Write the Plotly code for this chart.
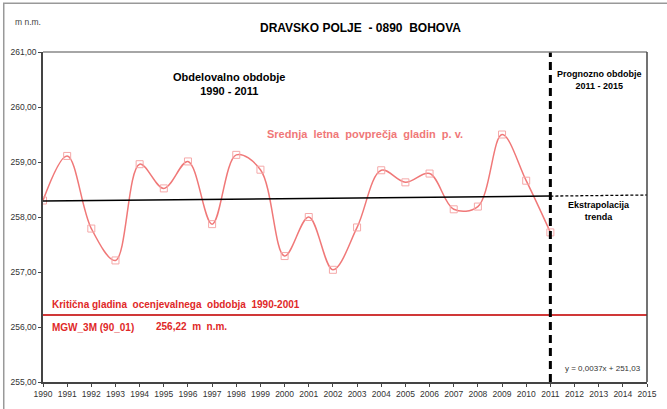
import plotly.graph_objects as go

years = list(range(1990, 2012))
levels = [258.30, 259.11, 257.79, 257.21, 258.96, 258.52, 259.01, 257.87, 259.13, 258.86,
          257.29, 258.00, 257.04, 257.81, 258.85, 258.63, 258.79, 258.14, 258.19, 259.50,
          258.66, 257.72]
trend_years = [1990, 2011]
trend_values = [258.29, 258.38]
extrap_years = [2011, 2015]
extrap_values = [258.38, 258.40]
critical_level = 256.22
split_year = 2011
y_ticks = [255, 256, 257, 258, 259, 260, 261]
y_tick_labels = ["255,00", "256,00", "257,00", "258,00", "259,00", "260,00", "261,00"]
x_ticks = list(range(1990, 2016))

FONT = "Liberation Sans, Arial, sans-serif"

fig = go.Figure()
fig.add_trace(go.Scatter(x=years, y=levels, mode="lines", line=dict(color="#F07878", width=1.5, shape="spline", smoothing=1.0), hoverinfo="skip"))
fig.add_trace(go.Scatter(x=years, y=levels, mode="markers",
                         marker=dict(symbol="square-open", size=7, color="#F5A8A8", line=dict(width=1)), hoverinfo="skip"))
fig.add_trace(go.Scatter(x=trend_years, y=trend_values, mode="lines", line=dict(color="black", width=1.5)))
fig.add_trace(go.Scatter(x=extrap_years, y=extrap_values, mode="lines", line=dict(color="black", width=1.3, dash="3px,2px")))
fig.add_trace(go.Scatter(x=[1990, 2015], y=[critical_level, critical_level], mode="lines", line=dict(color="#D03838", width=2)))
fig.add_trace(go.Scatter(x=[split_year, split_year], y=[255, 261], mode="lines", line=dict(color="black", width=3, dash="8px,5px")))

fig.update_layout(
    width=667, height=409,
    margin=dict(l=43, r=10, t=52, b=26),
    paper_bgcolor="white", plot_bgcolor="white",
    showlegend=False,
    font=dict(family=FONT, color="#333"),
    xaxis=dict(range=[1990, 2015], tickvals=x_ticks, ticktext=[str(v) for v in x_ticks],
               showgrid=False, zeroline=False, showline=True, linecolor="#444", linewidth=1.5, mirror=False,
               ticks="outside", ticklen=3, tickcolor="#444", tickfont=dict(size=8.5, color="#333")),
    yaxis=dict(range=[255, 261], tickvals=y_ticks, ticktext=y_tick_labels,
               showgrid=False, zeroline=False, showline=True, linecolor="#444", linewidth=1.5, mirror=False,
               ticks="outside", ticklen=3, tickcolor="#444", tickfont=dict(size=8.5, color="#333")),
)

shapes = [
    dict(type="line", xref="paper", yref="paper", x0=0, x1=1, y0=1, y1=1, line=dict(color="#888", width=1.5)),
    dict(type="line", xref="paper", yref="paper", x0=1, x1=1, y0=0, y1=1, line=dict(color="#444", width=1.5)),
    dict(type="rect", xref="paper", yref="paper", x0=-0.065, x1=1.3, y0=-0.3, y1=1.148,
         line=dict(color="#999", width=1.5), layer="below"),
]
fig.update_layout(shapes=shapes)

ann = []
def add(text, x, y, size, color="black", bold=True, xanchor="center", xref="paper", yref="paper"):
    t = f"<b>{text}</b>" if bold else text
    ann.append(dict(text=t, x=x, y=y, xref=xref, yref=yref, showarrow=False,
                    font=dict(size=size, color=color, family=FONT), xanchor=xanchor, yanchor="middle", align="center"))

def px(xp): return (xp - 43) / 614
def py(yp): return 1 - (yp - 52) / 331

add("DRAVSKO POLJE  - 0890  BOHOVA", px(366), py(28), 12)
add("m n.m.", px(28), py(22), 8.5, color="#444", bold=False)
add("Obdelovalno obdobje<br>1990 - 2011", px(232), py(84), 11)
add("Prognozno obdobje<br>2011 - 2015", px(609), py(80), 9)
add("Srednja  letna  povprečja  gladin  p. v.", px(370), py(134), 11, color="#F07878")
add("Ekstrapolacija<br>trenda", px(608), py(211), 9)
add("Kritična gladina  ocenjevalnega  obdobja  1990-2001", px(50), py(305), 10, color="#E02828", xanchor="left")
add("MGW_3M (90_01)", px(50), py(328), 10, color="#E02828", xanchor="left")
add("256,22  m  n.m.", px(156), py(327), 10, color="#E02828", xanchor="left")
add("y = 0,0037x + 251,03", px(612), py(369), 8, color="#333", bold=False)
fig.update_layout(annotations=ann)

fig.write_html("out.html", config={"displayModeBar": False},
               post_script="document.body.style.margin='0';document.body.style.overflow='hidden';")
